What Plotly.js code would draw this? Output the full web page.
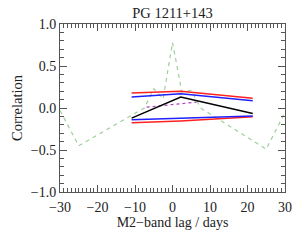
<!DOCTYPE html>
<html>
<head>
<meta charset="utf-8">
<script src="https://cdn.plot.ly/plotly-3.0.1.min.js"></script>
<style>html,body{margin:0;padding:0;background:#fff;}#chart{width:300px;height:240px;}</style>
</head>
<body>
<div id="chart"></div>
<script>
// Lags (days) for the correlation curves
const lagsBand = [-10.9, 2.2, 21.4];
const redUpper = [0.18, 0.20, 0.115];
const blueUpper = [0.13, 0.17, 0.087];
const blackCorr = [-0.12, 0.13, -0.065];
const blueLower = [-0.14, -0.125, -0.095];
const redLower = [-0.177, -0.155, -0.105];
const lagsDotted = [-6.9, 0.0, 6.4];
const magentaCorr = [0.01, 0.04, 0.07];
const lagsAcf = [-30, -25, -7.5, -5, -2.5, 0, 2.5, 5, 7.5, 25, 30];
const greenAcf = [-0.03, -0.45, 0.0, 0.23, 0.11, 0.78, 0.19, 0.21, 0.0, -0.49, -0.05];
const xTicks = [-30, -20, -10, 0, 10, 20, 30];
const yTicks = [-1.0, -0.5, 0.0, 0.5, 1.0];

const serif = '"Liberation Serif", "Times New Roman", Times, serif';
function line(x, y, color, width, dash) {
  return {x: x, y: y, type: 'scatter', mode: 'lines',
    line: {color: color, width: width, dash: dash || 'solid'}, hoverinfo: 'skip'};
}
const traces = [
  line(lagsAcf, greenAcf, '#9fcf9a', 1.2, '4px,4px'),
  line(lagsDotted, magentaCorr, '#b040c0', 1.2, 'dot'),
  line(lagsBand, redLower, '#ff2020', 1.5),
  line(lagsBand, blueLower, '#2020ff', 1.5),
  line(lagsBand, redUpper, '#ff2020', 1.5),
  line(lagsBand, blueUpper, '#2020ff', 1.5),
  line(lagsBand, blackCorr, '#000000', 1.5)
];
const axisCommon = {
  showgrid: false, zeroline: false, showline: true, linecolor: '#555', linewidth: 1,
  mirror: 'allticks', ticks: 'inside', ticklen: 7, tickcolor: '#555', tickwidth: 1,
  tickfont: {family: serif, size: 14, color: '#222'}
};
const layout = {
  width: 300, height: 240,
  margin: {l: 60, r: 15, t: 24, b: 48},
  paper_bgcolor: '#fff', plot_bgcolor: '#fff',
  showlegend: false,
  title: {text: 'PG 1211+143', font: {family: serif, size: 14.5, color: '#222'}, x: 0.575, xanchor: 'center', y: 0.945, yanchor: 'middle'},
  xaxis: Object.assign({}, axisCommon, {
    range: [-30, 30], tickvals: xTicks, ticktext: xTicks.map(v => v < 0 ? '\u2212' + Math.abs(v) : String(v)),
    ticklabelstandoff: 2,
    minor: {dtick: 1, ticklen: 4, ticks: 'inside', tickcolor: '#555'},
    title: {text: 'M2\u2212band lag / days', font: {family: serif, size: 14, color: '#222'}, standoff: 3}
  }),
  yaxis: Object.assign({}, axisCommon, {
    range: [-1, 1], tickvals: yTicks, ticktext: yTicks.map(v => (v < 0 ? '\u2212' : '') + Math.abs(v).toFixed(1)),
    minor: {dtick: 0.1, ticklen: 4, ticks: 'inside', tickcolor: '#555'},
    title: {text: 'Correlation', font: {family: serif, size: 14.5, color: '#222'}, standoff: 4}
  })
};
Plotly.newPlot('chart', traces, layout, {staticPlot: true, displayModeBar: false});
</script>
</body>
</html>
